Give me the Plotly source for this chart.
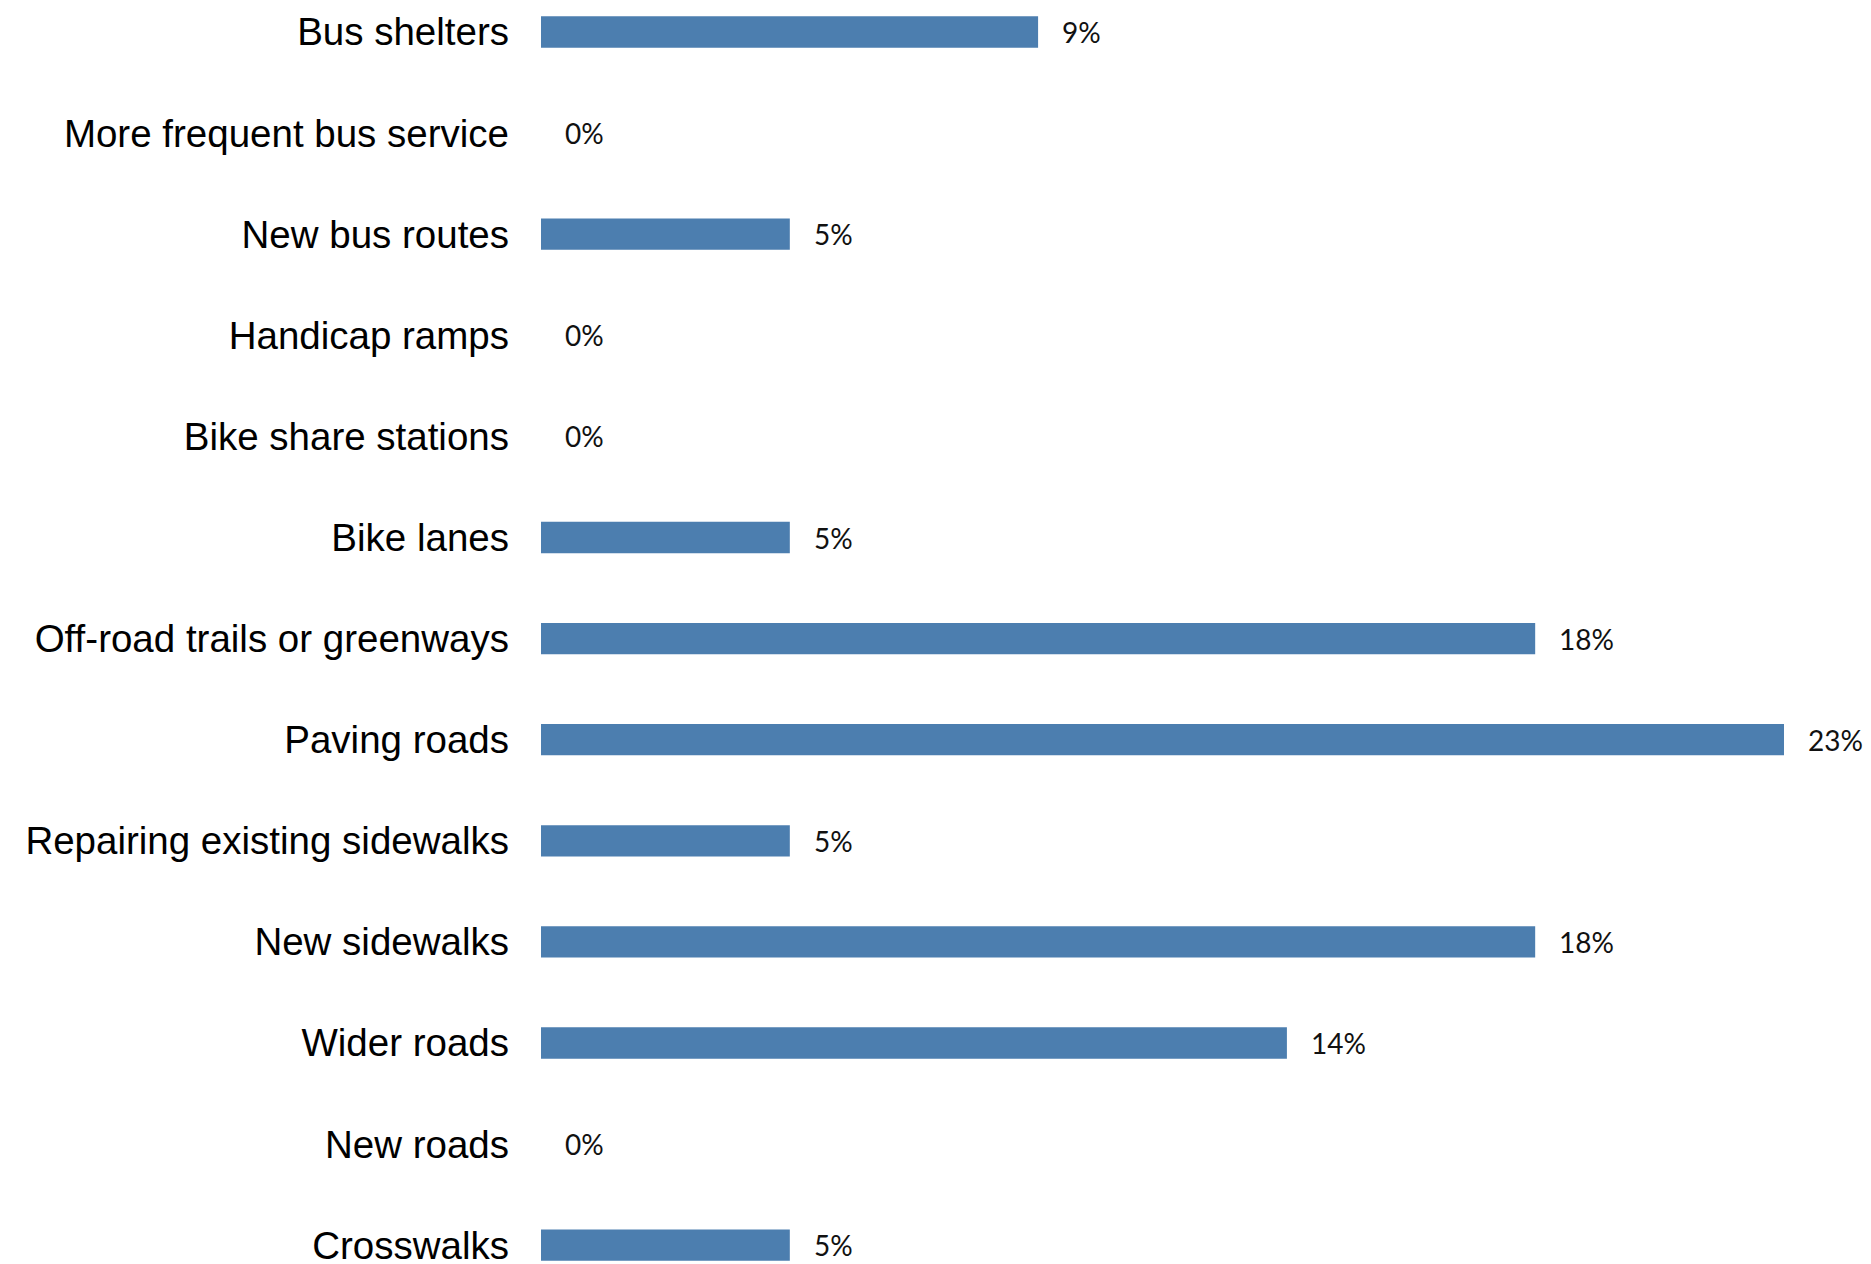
import plotly.graph_objects as go

categories = [
    "Bus shelters", "More frequent bus service", "New bus routes", "Handicap ramps",
    "Bike share stations", "Bike lanes", "Off-road trails or greenways", "Paving roads",
    "Repairing existing sidewalks", "New sidewalks", "Wider roads", "New roads", "Crosswalks",
]
values = [9.09, 0, 4.55, 0, 0, 4.55, 18.18, 22.73, 4.55, 18.18, 13.64, 0, 4.55]
labels = ["9%", "0%", "5%", "0%", "0%", "5%", "18%", "23%", "5%", "18%", "14%", "0%", "5%"]

# page body has an 8px margin, so the figure is placed at (8, 8)
W, H = 1863, 1256
left = 533
px_per_pct = (1784 - 541) / 22.73
xmax = (W - left) / px_per_pct

row_px = 101.1
top_center = 24
y_top = -top_center / row_px
y_bot = (H - top_center) / row_px

fig = go.Figure()
fig.add_trace(go.Bar(
    x=values, y=list(range(len(categories))), orientation="h",
    marker=dict(color="#4C7EAF", line=dict(width=0)),
    width=0.31,
))
for i, (v, t) in enumerate(zip(values, labels)):
    fig.add_annotation(x=v, y=i, text=t, showarrow=False, xanchor="left",
                       xshift=22, font=dict(family="Lato", size=28, color="#111111"))

fig.update_layout(
    width=W, height=H,
    margin=dict(l=left, r=0, t=0, b=0, autoexpand=False),
    plot_bgcolor="white", paper_bgcolor="white",
    showlegend=False,
    xaxis=dict(range=[0, xmax], visible=False, automargin=False),
    yaxis=dict(range=[y_bot, y_top], tickmode="array",
               tickvals=list(range(len(categories))), ticktext=categories,
               showgrid=False, zeroline=False, showline=False, ticks="",
               automargin=False, ticklabeloverflow="allow",
               ticklabelstandoff=31,
               tickfont=dict(family="Liberation Sans", size=38.5, color="#000000")),
)
fig.write_html("out.html")
